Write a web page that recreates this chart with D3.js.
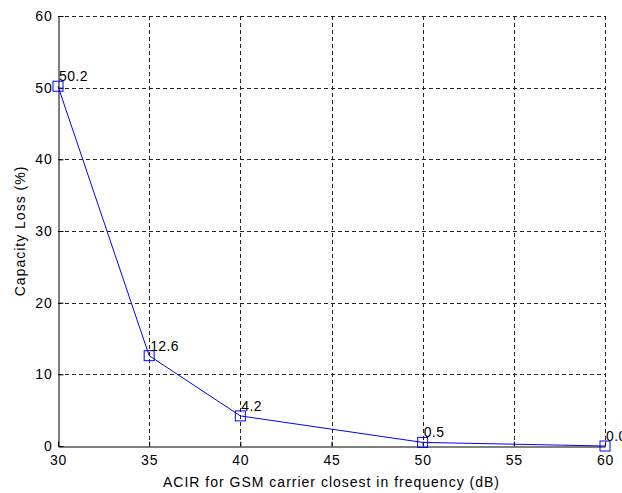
<!DOCTYPE html>
<html><head><meta charset="utf-8">
<script src="https://cdn.jsdelivr.net/npm/d3@7"></script>
<style>body{margin:0;background:#fff}svg{display:block}</style>
</head><body>
<script>
const acir = [30, 35, 40, 50, 60];
const capacityLoss = [50.2, 12.6, 4.2, 0.5, 0.0];
const pointLabels = ["50.2", "12.6", "4.2", "0.5", "0.0"];
const xTicks = [30, 35, 40, 45, 50, 55, 60];
const yTicks = [0, 10, 20, 30, 40, 50, 60];
const xTitle = "ACIR for GSM carrier closest in frequency (dB)";
const yTitle = "Capacity Loss (%)";

const W = 622, H = 493;
const m = {left: 58, top: 16, right: 605, bottom: 446};
const font = "'Liberation Sans', Arial, sans-serif";
const svg = d3.select("body").append("svg").attr("width", W).attr("height", H);
const x = d3.scaleLinear().domain([30, 60]).range([m.left, m.right]);
const y = d3.scaleLinear().domain([0, 60]).range([m.bottom, m.top]);

// grid
const grid = svg.append("g").attr("stroke", "#222").attr("stroke-width", 1).attr("stroke-dasharray", "4,3").attr("shape-rendering", "crispEdges");
grid.selectAll(".gx").data(xTicks.filter(d => d !== 30)).join("line")
  .attr("x1", d => Math.round(x(d)) + 0.5).attr("x2", d => Math.round(x(d)) + 0.5)
  .attr("y1", m.top).attr("y2", m.bottom);
grid.selectAll(".gy").data(yTicks.filter(d => d !== 0)).join("line")
  .attr("y1", d => Math.round(y(d)) + 0.5).attr("y2", d => Math.round(y(d)) + 0.5)
  .attr("x1", m.left).attr("x2", m.right);

// axes
const xAxis = d3.axisBottom(x).tickValues(xTicks).tickSizeInner(-5).tickSizeOuter(0).tickPadding(9);
const yAxis = d3.axisLeft(y).tickValues(yTicks).tickSizeInner(-5).tickSizeOuter(0).tickPadding(6);
const gx = svg.append("g").attr("transform", `translate(0,${m.bottom + 0.5})`).call(xAxis);
const gy = svg.append("g").attr("transform", `translate(${m.left + 0.5},0)`).call(yAxis);
[gx, gy].forEach(g => {
  g.select(".domain").attr("stroke", "#000").attr("stroke-width", 1);
  g.selectAll(".tick line").attr("stroke", "#000");
  g.selectAll("text").attr("font-family", font).attr("font-size", 14)
    .attr("letter-spacing", "0.8px").attr("fill", "#000");
});
gx.selectAll("text").attr("dy", "0.71em");

// line + markers
const pts = acir.map((a, i) => ({x: a, y: capacityLoss[i], label: pointLabels[i]}));
svg.append("path").datum(pts)
  .attr("fill", "none").attr("stroke", "#0000ff").attr("stroke-width", 1)
  .attr("d", d3.line().x(d => x(d.x)).y(d => y(d.y)));
svg.selectAll(".mk").data(pts).join("rect")
  .attr("x", d => x(d.x) - 5).attr("y", d => y(d.y) - 5)
  .attr("width", 10).attr("height", 10)
  .attr("fill", "none").attr("stroke", "#0000ff").attr("stroke-width", 1);
svg.selectAll(".lb").data(pts).join("text")
  .attr("x", d => x(d.x) + 1).attr("y", d => y(d.y) - 5)
  .attr("font-family", font).attr("font-size", 14).attr("letter-spacing", "0.4px").attr("fill", "#000")
  .text(d => d.label);

// titles
svg.append("text").attr("x", (m.left + m.right) / 2).attr("y", 487)
  .attr("text-anchor", "middle").attr("font-family", font).attr("font-size", 14)
  .attr("letter-spacing", "1px").text(xTitle);
svg.append("text").attr("transform", `translate(25,${(m.top + m.bottom) / 2}) rotate(-90)`)
  .attr("text-anchor", "middle").attr("font-family", font).attr("font-size", 14)
  .attr("letter-spacing", "1px").text(yTitle);
</script>
</body></html>
